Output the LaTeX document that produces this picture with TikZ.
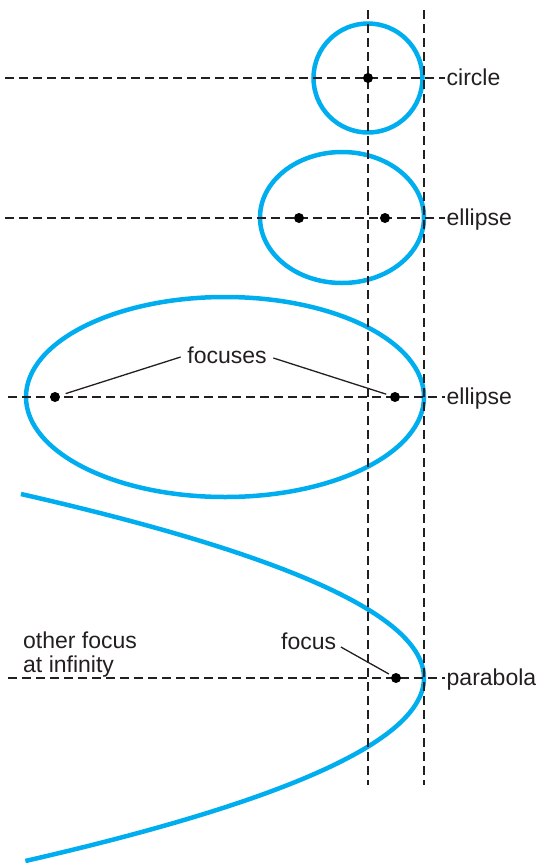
\documentclass[tikz,border=0pt]{standalone}
\usepackage{fontspec}
\setmainfont{Liberation Sans}
\definecolor{conblue}{RGB}{0,174,239}
\definecolor{ink}{RGB}{35,31,32}
\begin{document}
\begin{tikzpicture}[x=1pt,y=-1pt,
  conic/.style={draw=conblue,line width=4.5pt},
  guide/.style={draw=ink,line width=1.2pt,dash pattern=on 9pt off 5pt},
  dot/.style={circle,fill=black,inner sep=0pt,minimum size=10pt},
  lbl/.style={text=ink,font=\fontsize{23}{24}\selectfont,inner sep=1.5pt},
  leader/.style={draw=ink,line width=1.3pt}]
\useasboundingbox (0,0) rectangle (536,863);

% conic sections
\draw[conic] (368,78) circle [radius=54.5pt];
\draw[conic] (342,217.5) ellipse [x radius=82pt, y radius=65.5pt];
\draw[conic] (225,397) ellipse [x radius=199pt, y radius=100pt];
\draw[conic] plot[domain=-18.4:18.3, samples=120, smooth] ({424-\x*\x/0.84}, {678+10*\x});

% vertical guides
\coordinate (v1t) at (368,10); \coordinate (v1b) at (368,785);
\coordinate (v2t) at (424,10); \coordinate (v2b) at (424,785);
\draw[guide] (v1t) -- (v1b);
\draw[guide] (v2t) -- (v2b);

% labels
\node[lbl,anchor=base west] (lcircle) at (445,85) {circle};
\node[lbl,anchor=base west] (lell1) at (445,225) {ellipse};
\node[lbl,anchor=base west] (lell2) at (445,404) {ellipse};
\node[lbl,anchor=base west] (lpar) at (445,685) {parabola};

% horizontal guides
\coordinate (h1) at (5,78);
\coordinate (h2) at (5,218);
\coordinate (h3) at (8,397);
\coordinate (h4) at (8,678);
\draw[guide] (h1) -- (h1 -| lcircle.west);
\draw[guide] (h2) -- (h2 -| lell1.west);
\draw[guide] (h3) -- (h3 -| lell2.west);
\draw[guide] (h4) -- (h4 -| lpar.west);

% focus dots
\node[dot] (c0) at (368,78) {};
\node[dot] (e1a) at (299,218) {};
\node[dot] (e1b) at (385,218) {};
\node[dot] (e2a) at (55,397) {};
\node[dot] (e2b) at (395,397) {};
\node[dot] (pf) at (396,678) {};

% focus labels and leaders
\node[lbl,anchor=base] (foc) at (227,363) {focuses};
\draw[leader,shorten >=6pt] ([shift={(-5pt,6pt)}]foc.base west) -- (e2a);
\draw[leader,shorten >=4pt] ([shift={(5pt,5pt)}]foc.base east) -- (e2b);

\node[lbl,anchor=base west] (pfoc) at (279.5,649) {focus};
\draw[leader,shorten >=3pt] ([shift={(3pt,2pt)}]pfoc.base east) -- (pf);

\node[lbl,anchor=north west,align=left] (other) at (21.5,630) {other focus\\at infinity};
\end{tikzpicture}
\end{document}
